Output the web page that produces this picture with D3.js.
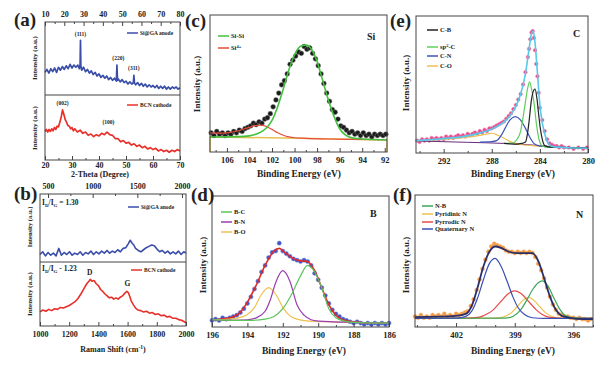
<!DOCTYPE html>
<html>
<head>
<meta charset="utf-8">
<script src="https://cdn.jsdelivr.net/npm/d3@7"></script>
<style>
body { margin: 0; background: #fff; }
</style>
</head>
<body>
<svg width="609" height="370"></svg>
<script>
/*global d3*/
var svg = d3.select("svg");
var serif = '"Liberation Serif", "Times New Roman", serif';

// ---------- (a) XRD : [2-theta, intensity] ----------
var xrdTopTicks = [10, 20, 30, 40, 50, 60, 70, 80];
var xrdBottomTicks = [20, 30, 40, 50, 60, 70];
var siGAXrd = [[10,31],[11,35],[12,30],[13,36],[14,32],[15,37],[16,31],[17,38],[18,34],[19,39],[20,35],[21,40],[22,36],[23,42],[24,37],[25,41],[26,38],[27,41],[27.8,36],[28.2,42],[28.4,75],[28.6,40],[29,34],[30,38],[31,32],[32,35],[33,30],[34,33],[35,28],[36,31],[37,26],[38,29],[39,24],[40,27],[41,23],[42,26],[43,21],[44,24],[45,20],[46,23],[47,19],[47.3,41],[47.6,20],[48,22],[49,18],[50,21],[51,17],[52,19],[53,15],[54,18],[55,15],[55.8,17],[56.1,27],[56.4,16],[57,14],[58,17],[59,13],[60,16],[61,12],[62,15],[63,11],[64,14],[65,11],[66,13],[67,10],[68,13],[69,9],[70,12],[71,9],[72,12],[73,8],[74,11],[75,8],[76,11],[77,9],[78,11],[79,8],[80,10]];
var bcnXrd = [[20,44],[20.5,47],[21,43],[21.5,47],[22,44],[22.5,48],[23,45],[23.5,50],[24,47],[24.5,52],[25,51],[25.5,58],[26,66],[26.5,77],[27,70],[27.5,62],[28,58],[28.5,53],[29,52],[29.5,48],[30,50],[30.5,45],[31,48],[32,43],[33,46],[34,41],[35,43],[36,38],[37,40],[38,36],[39,39],[40,37],[41,41],[42,39],[43,43],[44,39],[45,38],[46,33],[47,33],[48,28],[49,30],[50,26],[51,27],[52,23],[53,25],[54,21],[55,23],[56,19],[57,21],[58,17],[59,19],[60,16],[61,18],[62,14],[63,16],[64,13],[65,15],[66,12],[67,15],[68,13],[69,16],[70,14]];
var siGAXrdPeaks = [["(111)", 28.4, 81], ["(220)", 48.0, 48], ["(311)", 56.1, 34]];
var bcnXrdPeaks = [["(002)", 26.5, 85], ["(100)", 43.5, 55]];

// ---------- (b) Raman : [shift, intensity] ----------
var ramanTopTicks = [500, 1000, 1500, 2000];
var ramanBottomTicks = [1000, 1200, 1400, 1600, 1800, 2000];
var siGARaman = [[410,11],[440,15],[470,9],[500,14],[530,10],[560,13],[590,9],[620,20],[650,10],[680,14],[710,11],[740,15],[770,10],[800,13],[830,11],[860,15],[890,10],[920,14],[950,12],[980,16],[1010,11],[1040,15],[1070,12],[1100,16],[1130,13],[1160,17],[1190,13],[1220,16],[1250,14],[1280,18],[1310,15],[1340,20],[1370,21],[1400,27],[1420,32],[1440,28],[1460,25],[1480,20],[1510,17],[1540,15],[1570,18],[1600,21],[1630,23],[1660,25],[1690,24],[1720,19],[1750,15],[1780,17],[1810,13],[1840,16],[1870,12],[1900,15],[1930,12],[1960,16],[1990,11],[2020,15],[2045,13]];
var bcnRaman = [[1000,22],[1020,25],[1040,23],[1060,26],[1080,24],[1100,27],[1120,26],[1140,29],[1160,28],[1180,30],[1200,32],[1220,35],[1240,38],[1260,43],[1280,50],[1300,58],[1320,66],[1335,70],[1345,73],[1355,70],[1370,71],[1385,66],[1400,63],[1415,57],[1430,54],[1445,50],[1460,47],[1475,44],[1490,45],[1505,42],[1520,44],[1535,42],[1550,45],[1565,47],[1580,51],[1595,54],[1605,52],[1615,46],[1625,39],[1640,33],[1655,28],[1670,25],[1690,24],[1710,22],[1730,23],[1750,20],[1770,21],[1790,18],[1810,19],[1830,16],[1850,17],[1870,14],[1890,15],[1910,12],[1930,12],[1950,10],[1970,9],[1985,7],[2000,5]];
var bcnRamanBands = [["D", 1340, 79], ["G", 1598, 62]];
var ratioValues = ["= 1.30", "- 1.23"];

// ---------- (c) Si 2p : [binding energy, intensity] ----------
var siTicks = [106, 104, 102, 100, 98, 96, 94, 92];
var siData = [[107.4,14],[107.15,12],[106.9,15],[106.65,13],[106.4,14],[106.15,12],[105.9,14],[105.65,13],[105.4,15],[105.15,14],[104.9,16],[104.65,15],[104.4,17],[104.15,18],[103.9,19],[103.65,21],[103.4,20],[103.15,22],[102.9,21],[102.65,24],[102.4,25],[102.15,28],[101.9,33],[101.65,38],[101.4,43],[101.15,49],[100.9,52],[100.65,57],[100.4,64],[100.15,67],[99.9,70],[99.65,73],[99.4,72],[99.15,77],[98.9,75],[98.65,76],[98.4,72],[98.15,68],[97.9,63],[97.65,57],[97.4,50],[97.15,43],[96.9,37],[96.65,31],[96.4,29],[96.15,24],[95.9,19],[95.65,18],[95.4,16],[95.15,14],[94.9,15],[94.65,13],[94.4,14],[94.15,12],[93.9,14],[93.65,12],[93.4,13],[93.15,11],[92.9,13],[92.65,12],[92.4,13],[92.15,12],[91.9,13]];
var siSiFit = [[107.5,11],[105,11.2],[104,11.8],[103.5,12.8],[103,14.5],[102.5,17.5],[102,23],[101.5,33],[101,46],[100.5,60],[100,71],[99.5,77],[99,78],[98.5,75],[98,66],[97.5,52],[97,38],[96.5,26],[96,17],[95.5,12.5],[95,10.5],[94,9.5],[93,9.1],[91.8,8.9]];
var si4Fit = [[107.5,14],[106.5,13.8],[106,14],[105.5,14.6],[105,15.5],[104.5,16.8],[104,18],[103.5,19.3],[103,19.6],[102.5,18.6],[102,16.5],[101.5,14],[101,12.2],[100.5,11],[100,10.4],[99,10],[97,9.5],[95,9.2],[91.8,9]];
var siBackground = [[107.5,0],[107.5,11],[99.5,10],[91.8,8.8],[91.8,0]];

// ---------- (d) B 1s ----------
var bTicks = [196, 194, 192, 190, 188, 186];
var bData = [[196,5],[195.8,6],[195.6,5],[195.4,7],[195.2,6],[195,7],[194.8,8],[194.6,9],[194.4,11],[194.2,14],[194,18],[193.8,23],[193.6,29],[193.4,35],[193.2,42],[193,47],[192.8,53],[192.6,57],[192.4,58],[192.2,64],[192,58],[191.8,56],[191.6,54],[191.4,52],[191.2,51],[191,50],[190.8,51],[190.6,50],[190.4,47],[190.2,41],[190,36],[189.8,30],[189.6,24],[189.4,18],[189.2,13],[189,10],[188.8,8],[188.6,6],[188.4,5],[188.2,4],[188,3],[187.8,4],[187.6,3],[187.4,2],[187.2,3],[187,2],[186.8,3],[186.6,2],[186.4,3],[186.2,2],[186,3]];
var bEnvelope = [[196,5],[195.5,6],[195,7],[194.5,10],[194,19],[193.5,32],[193,47],[192.5,58],[192.2,60],[191.9,57],[191.5,53],[191,50.5],[190.6,50],[190.2,43],[189.8,30],[189.4,17],[189,9],[188.5,5],[188,4],[187,3],[186,3]];
var bcFit = [[196,5.5],[194,5],[193,6],[192.5,8],[192,14],[191.5,25],[191,39],[190.6,47],[190.2,42],[189.8,30],[189.4,14],[189,7],[188.5,4.5],[188,3.5],[186,3]];
var bnFit = [[196,5],[194,5.5],[193.5,7],[193,12],[192.7,21],[192.4,34],[192,43],[191.6,35],[191.2,17],[190.8,9],[190.4,5.5],[190,4.5],[188,3.5],[186,3]];
var boFit = [[196,5.5],[195,6],[194.5,7],[194,9.5],[193.6,15],[193.2,25],[192.8,30],[192.4,25],[192,15],[191.6,8.5],[191.2,6],[190.5,4.5],[188,3.5],[186,3]];

// ---------- (e) C 1s ----------
var cTicks = [292, 288, 284, 280];
var cData = [[294.2,9],[294,8],[293.8,10],[293.6,9],[293.4,10],[293.2,9],[293,11],[292.8,10],[292.6,11],[292.4,10],[292.2,11],[292,10],[291.8,12],[291.6,11],[291.4,12],[291.2,11],[291,12],[290.8,13],[290.6,12],[290.4,13],[290.2,12],[290,14],[289.8,13],[289.6,14],[289.4,15],[289.2,14],[289,16],[288.8,15],[288.6,17],[288.4,16],[288.2,18],[288,18],[287.8,19],[287.6,20],[287.4,21],[287.2,22],[287,23],[286.8,25],[286.6,27],[286.4,29],[286.2,32],[286,35],[285.8,39],[285.6,43],[285.4,50],[285.2,59],[285,70],[284.9,76],[284.8,83],[284.7,88],[284.6,89],[284.5,84],[284.4,75],[284.3,65],[284.2,56],[284.1,44],[284,33],[283.8,24],[283.6,16],[283.4,10],[283.2,7],[283,6],[282.8,5],[282.6,5],[282.4,4],[282.2,5],[282,4],[281.6,4],[281.2,3],[280.8,4],[280.4,3],[280.1,4]];
var cEnvelope = [[294.3,9],[292,10.5],[290,12.5],[289,14.5],[288,17.5],[287,22.5],[286.5,27],[286,34],[285.6,43],[285.2,58],[284.9,76],[284.7,87],[284.55,89],[284.4,80],[284.2,58],[284,35],[283.8,22],[283.5,11],[283.2,6],[282.8,4.5],[282,4],[280,3.5]];
var cbFit = [[287,7],[286,6.5],[285.5,7],[285.2,8],[285,16],[284.9,23],[284.7,39],[284.5,46],[284.4,46.7],[284.25,40],[284.1,28],[283.95,17],[283.8,10],[283.6,5.5],[283.3,4.5],[282,4],[280,3.5]];
var sp2Fit = [[287,7],[286.2,7.5],[285.9,10],[285.6,16],[285.4,26],[285.2,37.5],[285,48],[284.86,52],[284.7,47],[284.5,37.5],[284.3,22],[284.1,11],[283.9,6],[283.6,4.5],[282,4],[280,3.5]];
var cnFit = [[289,8],[288,8.3],[287.6,9],[287.2,13],[286.9,18],[286.5,24],[286.05,26.5],[285.6,24],[285.2,18],[284.8,11],[284.5,7],[284,5],[283,4.5],[282,4],[280,3.5]];
var coFit = [[294.3,9],[292,10],[290,11.5],[289,12.8],[288.3,14],[288,14.4],[287.5,13],[287,11],[286.5,8.5],[286,7],[285.5,6],[284,5],[282,4],[280,3.5]];
var cBaseline = [[294.3,8.8],[290,7.8],[287,7],[285,6],[284,5.5],[283,4.6],[282,4.2],[280,3.8]];

// ---------- (f) N 1s ----------
var nTicks = [402, 399, 396];
var nData = [[404.1,8],[403.95,7],[403.8,9],[403.65,7],[403.5,8],[403.35,7],[403.2,9],[403.05,8],[402.9,9],[402.75,8],[402.6,10],[402.45,8],[402.3,9],[402.15,8],[402,10],[401.85,9],[401.7,10],[401.55,11],[401.4,12],[401.25,16],[401.1,21],[400.95,28],[400.8,36],[400.65,44],[400.5,51],[400.35,57],[400.2,61],[400.05,63],[399.9,62],[399.75,61],[399.6,60],[399.45,58],[399.3,57],[399.15,57],[399,56],[398.85,57],[398.7,56],[398.55,57],[398.4,56],[398.25,57],[398.1,56],[397.95,53],[397.8,48],[397.65,43],[397.5,37],[397.35,30],[397.2,23],[397.05,17],[396.9,13],[396.75,10],[396.6,9],[396.45,8],[396.3,8],[396.15,7],[396,7],[395.85,6],[395.7,7],[395.55,6],[395.4,6],[395.25,5],[395.1,6]];
var nEnvelope = [[404.1,7.5],[402,8.5],[401.5,10],[401.2,16],[400.9,30],[400.6,46],[400.3,57],[400,61],[399.7,60],[399.3,57],[398.9,56],[398.5,56],[398.1,56],[397.8,50],[397.5,37],[397.2,23],[396.9,13],[396.6,8.5],[396.2,7],[395.5,6],[395,6]];
var nbFit = [[404.1,6.6],[399.5,6.7],[399.1,8],[398.7,13],[398.4,20],[398.1,28],[397.8,33.5],[397.6,35],[397.3,31],[397,22],[396.7,13.5],[396.4,8.5],[396,7],[395,6.6]];
var pyridinicFit = [[404.1,6.6],[400,6.7],[399.6,7.5],[399.2,10.5],[398.9,15],[398.6,20],[398.3,22.5],[398,20],[397.7,15],[397.4,10.5],[397,7.5],[396.5,6.7],[395,6.6]];
var pyrrolicFit = [[404.1,6.6],[401.5,6.7],[400.8,7.5],[400.4,10],[400.1,13],[399.7,19.5],[399.3,25.5],[399,27.3],[398.7,25.5],[398.3,19.5],[397.9,13],[397.6,9.5],[397.2,7.3],[396.5,6.6],[395,6.6]];
var quaternaryFit = [[404.1,6.6],[402,6.7],[401.5,8],[401.2,12],[400.9,22],[400.6,36],[400.3,48],[400,52],[399.7,46],[399.4,35],[399.1,23],[398.8,14],[398.5,9.5],[398.1,7],[397.5,6.6],[395,6.6]];

// ---------- helpers ----------
function styleText(sel, size) {
    sel.attr("font-family", serif).attr("font-weight", "bold").attr("font-size", size).attr("fill", "#222");
}

function frame(x0, y0, x1, y1) {
    svg.append("rect")
        .attr("x", x0).attr("y", y0)
        .attr("width", x1 - x0).attr("height", y1 - y0)
        .attr("fill", "none").attr("stroke", "#444").attr("stroke-width", 1);
}

function ticks(axisFn, scale, pos, major, minor, pad, fs) {
    var g = svg.append("g").attr("transform", "translate(0," + pos + ")");
    if (minor) {
        g.append("g").call(axisFn(scale).tickValues(minor).tickSize(-2).tickFormat(""));
    }
    g.append("g").call(axisFn(scale).tickValues(major).tickSize(-4).tickPadding(pad).tickFormat(d3.format("d")));
    g.selectAll(".domain").remove();
    g.selectAll("line").attr("stroke", "#444");
    styleText(g.selectAll("text"), fs);
}

function drawLine(data, x, y, color, width, curve) {
    svg.append("path").datum(data)
        .attr("fill", "none")
        .attr("stroke", color)
        .attr("stroke-width", width)
        .attr("stroke-linejoin", "round")
        .attr("d", d3.line()
            .x(function (d) { return x(d[0]); })
            .y(function (d) { return y(d[1]); })
            .curve(curve || d3.curveLinear));
}

function drawDots(data, x, y, fill, stroke, r) {
    svg.append("g").selectAll("circle")
        .data(data)
        .join("circle")
        .attr("cx", function (d) { return x(d[0]); })
        .attr("cy", function (d) { return y(d[1]); })
        .attr("r", r)
        .attr("fill", fill)
        .attr("stroke", stroke)
        .attr("stroke-width", 0.5);
}

function label(txt, x, y, size, anchor) {
    var t = svg.append("text").attr("x", x).attr("y", y).attr("text-anchor", anchor || "start").text(txt);
    styleText(t, size);
    return t;
}

function yLabel(cx, cy, size) {
    var t = svg.append("text")
        .attr("transform", "translate(" + cx + "," + cy + ") rotate(-90)")
        .attr("text-anchor", "middle")
        .attr("dy", "0.35em")
        .text("Intensity (a.u.)");
    styleText(t, size);
}

function legend(items, x, size) {
    items.forEach(function (it) {
        svg.append("line")
            .attr("x1", x).attr("x2", x + 11)
            .attr("y1", it[2]).attr("y2", it[2])
            .attr("stroke", it[1]).attr("stroke-width", 1.5);
        var t = label("", x + 13, it[2] + 2.3, size);
        if (it[3]) {
            t.append("tspan").text(it[0]);
            t.append("tspan").attr("dy", -2.5).attr("font-size", size * 0.7).text(it[3]);
            if (it[4]) t.append("tspan").attr("dy", 2.5).text(it[4]);
        } else {
            t.text(it[0]);
        }
    });
}

var smooth = d3.curveMonotoneX;

// ---------- panel (a) ----------
var xaTop = d3.scaleLinear().domain([10, 80]).range([45, 180]);
var xaBot = d3.scaleLinear().domain([20, 70]).range([45, 180]);
var ya1 = d3.scaleLinear().domain([0, 100]).range([95, 22]);
var ya2 = d3.scaleLinear().domain([0, 100]).range([160, 95]);

drawLine(siGAXrd, xaTop, ya1, "#3a4ea8", 1.7);
drawLine(bcnXrd, xaBot, ya2, "#e8302a", 1.7);
siGAXrdPeaks.forEach(function (p) { label(p[0], xaTop(p[1]), ya1(p[2]), 5.5, "middle"); });
bcnXrdPeaks.forEach(function (p) { label(p[0], xaBot(p[1]), ya2(p[2]), 5.5, "middle"); });
frame(45, 22, 180, 160);
svg.append("line").attr("x1", 45).attr("x2", 180).attr("y1", 95).attr("y2", 95).attr("stroke", "#444");
ticks(d3.axisTop, xaTop, 22, xrdTopTicks, d3.range(15, 80, 10), 5, 8);
ticks(d3.axisBottom, xaBot, 160, xrdBottomTicks, d3.range(25, 70, 10), 2, 8);
legend([["Si@GA anode", "#3a4ea8", 33]], 127, 5.5);
legend([["BCN cathode", "#e8302a", 105]], 127, 5.5);
yLabel(35, 58, 7);
yLabel(35, 128, 7);
label("2-Theta (Degree)", 100, 177, 8, "middle");
label("(a)", 14, 26, 19);

// ---------- panel (b) ----------
var xbTop = d3.scaleLinear().domain([410, 2045]).range([40, 186]);
var xbBot = d3.scaleLinear().domain([1000, 2000]).range([40, 186]);
var yb1 = d3.scaleLinear().domain([0, 100]).range([262, 194]);
var yb2 = d3.scaleLinear().domain([0, 100]).range([326, 262]);

drawLine(siGARaman, xbTop, yb1, "#3a4ea8", 1.6);
drawLine(bcnRaman, xbBot, yb2, "#e8302a", 1.6);
bcnRamanBands.forEach(function (p) { label(p[0], xbBot(p[1]), yb2(p[2]), 7.5, "middle"); });
frame(40, 194, 186, 326);
svg.append("line").attr("x1", 40).attr("x2", 186).attr("y1", 262).attr("y2", 262).attr("stroke", "#444");
ticks(d3.axisTop, xbTop, 194, ramanTopTicks, [750, 1250, 1750], 5, 8);
ticks(d3.axisBottom, xbBot, 326, ramanBottomTicks, [1100, 1300, 1500, 1700, 1900], 5, 8);
legend([["Si@GA anode", "#3a4ea8", 207]], 128, 5.5);
legend([["BCN cathode", "#e8302a", 270]], 131, 5.5);
[205, 271].forEach(function (yy, i) {
    var t = label("", 42, yy, 7.5);
    t.append("tspan").text("I");
    t.append("tspan").attr("dy", 1.5).attr("font-size", 5).text("D");
    t.append("tspan").attr("dy", -1.5).text("/I");
    t.append("tspan").attr("dy", 1.5).attr("font-size", 5).text("G");
    t.append("tspan").attr("dy", -1.5).text(" " + ratioValues[i]);
});
yLabel(30, 227, 6.5);
yLabel(30, 294, 7);
var rl = label("Raman Shift (cm", 113, 352, 8, "middle");
rl.append("tspan").attr("dy", -3).attr("font-size", 5.5).text("-1");
rl.append("tspan").attr("dy", 3).text(")");
label("(b)", 14, 200, 19);

// ---------- panel (c) ----------
var xc = d3.scaleLinear().domain([107.5, 91.8]).range([210, 387]);
var yc = d3.scaleLinear().domain([0, 100]).range([152, 15]);
drawLine(siBackground, xc, yc, "#e8c050", 1.5);
drawDots(siData, xc, yc, "#1a1a1a", "#777", 2.4);
drawLine(si4Fit, xc, yc, "#e84a3a", 1.2, smooth);
drawLine(siSiFit, xc, yc, "#44c040", 1.6, smooth);
frame(210, 15, 387, 152);
ticks(d3.axisBottom, xc, 152, siTicks, [107, 105, 103, 101, 99, 97, 95, 93], 5, 8.5);
legend([["Si-Si", "#44c040", 36], ["Si", "#e84a3a", 48, "4+"]], 218, 6.5);
label("Si", 367, 40, 10);
yLabel(197, 84, 9);
label("Binding Energy (eV)", 299, 177, 9.5, "middle");
label("(c)", 185, 27, 19);

// ---------- panel (d) ----------
var xd = d3.scaleLinear().domain([196, 186]).range([212, 389]);
var yd = d3.scaleLinear().domain([0, 100]).range([327, 196]);
drawDots(bData, xd, yd, "#4257c6", "#6f80d8", 2.1);
drawLine(bEnvelope, xd, yd, "#e02a2a", 1.6, smooth);
drawLine(boFit, xd, yd, "#f0c050", 1.2, smooth);
drawLine(bnFit, xd, yd, "#9a3db0", 1.2, smooth);
drawLine(bcFit, xd, yd, "#5cc45a", 1.2, smooth);
frame(212, 196, 389, 327);
ticks(d3.axisBottom, xd, 327, bTicks, [195, 193, 191, 189, 187], 5, 8.5);
legend([["B-C", "#5cc45a", 212], ["B-N", "#9a3db0", 222], ["B-O", "#f0c050", 232]], 221, 6.5);
label("B", 370, 217, 10);
yLabel(203, 265, 9);
label("Binding Energy (eV)", 304, 354, 9.5, "middle");
label("(d)", 191, 201, 19);

// ---------- panel (e) ----------
var xe = d3.scaleLinear().domain([294.3, 280]).range([416, 588]);
var ye = d3.scaleLinear().domain([0, 100]).range([153, 16]);
drawDots(cData, xe, ye, "#ea4a8e", "#f07aa8", 1.8);
drawLine(cBaseline, xe, ye, "#6a2a7a", 1, smooth);
drawLine(coFit, xe, ye, "#f0c050", 1.2, smooth);
drawLine(cnFit, xe, ye, "#3d54b8", 1.2, smooth);
drawLine(sp2Fit, xe, ye, "#5cd05c", 1.2, smooth);
drawLine(cbFit, xe, ye, "#222", 1.2, smooth);
drawLine(cEnvelope, xe, ye, "#5ac8e8", 1.6, smooth);
frame(416, 16, 588, 153);
ticks(d3.axisBottom, xe, 153, cTicks, [294, 290, 286, 282], 5, 8.5);
legend([["C-B", "#222", 30], ["sp", "#5cd05c", 47, "2", "-C"], ["C-N", "#3d54b8", 56], ["C-O", "#f0c050", 66]], 427, 6.5);
label("C", 573, 37, 10);
yLabel(406, 83, 9);
label("Binding Energy (eV)", 513, 177, 9.5, "middle");
label("(e)", 390, 27, 19);

// ---------- panel (f) ----------
var xf = d3.scaleLinear().domain([404.1, 395]).range([415, 593]);
var yf = d3.scaleLinear().domain([0, 100]).range([327, 195]);
drawDots(nData, xf, yf, "#f39a3c", "#f6b070", 2);
drawLine(pyridinicFit, xf, yf, "#ecc050", 1.2, smooth);
drawLine(pyrrolicFit, xf, yf, "#e84a4a", 1.2, smooth);
drawLine(nbFit, xf, yf, "#3aa75a", 1.2, smooth);
drawLine(quaternaryFit, xf, yf, "#3a4fb5", 1.2, smooth);
drawLine(nEnvelope, xf, yf, "#2a2f6a", 1.8, smooth);
frame(415, 195, 593, 327);
ticks(d3.axisBottom, xf, 327, nTicks, [404, 403, 401, 400, 398, 397, 395], 5, 8.5);
legend([["N-B", "#3aa75a", 206], ["Pyridinic N", "#ecc050", 214], ["Pyrrodic N", "#e84a4a", 222], ["Quaternary N", "#3a4fb5", 229]], 422, 6.5);
label("N", 576, 218, 10);
yLabel(406, 265, 9);
label("Binding Energy (eV)", 513, 354, 9.5, "middle");
label("(f)", 393, 201, 19);
</script>
</body>
</html>
